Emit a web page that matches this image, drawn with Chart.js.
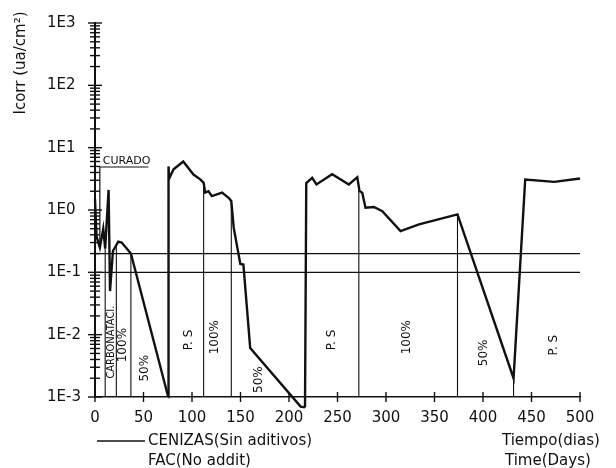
<!DOCTYPE html>
<html lang="es">
<head>
<meta charset="UTF-8" />
<title>Icorr - CENIZAS (Sin aditivos)</title>
<script src="https://cdn.jsdelivr.net/npm/chart.js@4.4.1/dist/chart.umd.min.js"></script>
<style>
  html,body{margin:0;padding:0;background:#fff}
  #wrap{width:616px;height:468px}
</style>
</head>
<body>
<div id="wrap"><canvas id="icorr" width="616" height="468"></canvas></div>
<script>
// Icorr (ua/cm2) vs time (days), one curve broken into three wet/dry cycles
const cycle1Days  = [0, 1.5, 5, 8.5, 10.5, 14, 15.5, 18.5, 24, 27.5, 37, 75.5];
const cycle1Icorr = [1.5, 0.38, 0.25, 0.5, 0.24, 2.1, 0.05, 0.22, 0.31, 0.30, 0.2, 0.001];

const cycle2Days  = [75.5, 75.8, 76.5, 81, 91, 101.5, 108.5, 112, 113.6, 117, 120.5, 131, 137.7, 140.5, 143, 149.8, 153, 160, 212, 216.5];
const cycle2Icorr = [0.001, 5.0, 3.2, 4.5, 6.0, 3.7, 3.1, 2.72, 1.9, 2.0, 1.67, 1.9, 1.57, 1.39, 0.52, 0.136, 0.133, 0.0061, 0.0007, 0.00068];

const cycle3Days  = [216.5, 217.8, 223.9, 228.3, 244.5, 261.7, 270.4, 272.7, 275.5, 278.9, 287.5, 296.2, 315, 334, 373.7, 431.5, 443.5, 473.5, 500];
const cycle3Icorr = [0.00068, 2.7, 3.27, 2.57, 3.75, 2.57, 3.36, 2.01, 1.89, 1.09, 1.12, 0.96, 0.46, 0.59, 0.85, 0.002, 3.09, 2.83, 3.2];

// phase boundaries: thin verticals from the curve down to the axis
const phaseDays = [10.5, 22, 37, 112, 140.5, 272, 373.7, 431.5];
const phaseTops = [0.24, 0.27, 0.2, 2.72, 1.39, 2.4, 0.85, 0.002];

// curing bracket
const curadoDays  = [5, 5, 55];
const curadoIcorr = [0.25, 4.9, 4.9];

// horizontal reference levels
const refLevels = [0.2, 0.1];

// zone names, written vertically
const zoneLabels = ['CARBONATACI.', '100%', '50%', 'P. S', '100%', '50%', 'P. S', '100%', '50%', 'P. S'];
const zoneDays   = [16.5, 29.2, 51.7, 96.4, 124, 168.7, 244.5, 322, 401, 473.5];
const zoneIcorr  = [0.0076, 0.0068, 0.0029, 0.0082, 0.0091, 0.0019, 0.0082, 0.0091, 0.0051, 0.0068];

const yDecades = [0.001, 0.01, 0.1, 1, 10, 100, 1000];
const yDecadeLabels = ['1E-3', '1E-2', '1E-1', '1E0', '1E1', '1E2', '1E3'];
const xTicks = [0, 50, 100, 150, 200, 250, 300, 350, 400, 450, 500];

const INK = '#111';
const FONT = "'DejaVu Sans', 'Liberation Sans', sans-serif";
const NARROW = "'Liberation Sans Narrow', 'DejaVu Sans Condensed', 'Liberation Sans', sans-serif";

// 1..9 per decade for the log axis tick marks
const yTickValues = [];
yDecades.slice(0, -1).forEach(d => { for (let m = 1; m <= 9; m++) yTickValues.push(m * d); });
yTickValues.push(yDecades[yDecades.length - 1]);

const xy = (days, vals) => days.map((d, i) => ({ x: d, y: vals[i] }));
const seg = (data, width) => ({
  data, borderColor: INK, borderWidth: width, pointRadius: 0,
  tension: 0, fill: false, clip: false
});

const datasets = [
  { ...seg(xy(cycle1Days, cycle1Icorr), 2.4), label: 'CENIZAS(Sin aditivos)' },
  seg(xy(cycle2Days, cycle2Icorr), 2.4),
  seg(xy(cycle3Days, cycle3Icorr), 2.4),
  seg(xy(curadoDays, curadoIcorr), 1.2),
  ...refLevels.map(v => seg([{ x: 0, y: v }, { x: 500, y: v }], 1.3)),
  ...phaseDays.map((d, i) => seg([{ x: d, y: phaseTops[i] }, { x: d, y: yDecades[0] }], 1.1))
];

const inkPlugin = {
  id: 'ink',
  afterDraw(chart) {
    const { ctx, scales: { x, y } } = chart;
    ctx.save();
    ctx.strokeStyle = INK;
    ctx.fillStyle = INK;

    // cross-shaped tick marks on both axes
    const ax = x.getPixelForValue(0);
    ctx.lineWidth = 1.4;
    yTickValues.forEach(v => {
      const py = y.getPixelForValue(v);
      const len = yDecades.includes(v) ? 7 : 5;
      ctx.beginPath();
      ctx.moveTo(ax - len, py);
      ctx.lineTo(ax + len, py);
      ctx.stroke();
    });
    const ay = y.getPixelForValue(yDecades[0]);
    xTicks.forEach(v => {
      const px = x.getPixelForValue(v);
      ctx.beginPath();
      ctx.moveTo(px, ay - 5);
      ctx.lineTo(px, ay + 5);
      ctx.stroke();
    });

    // zone names
    ctx.textAlign = 'center';
    ctx.textBaseline = 'middle';
    zoneLabels.forEach((t, i) => {
      ctx.save();
      ctx.translate(x.getPixelForValue(zoneDays[i]), y.getPixelForValue(zoneIcorr[i]));
      ctx.rotate(-Math.PI / 2);
      ctx.font = t.length > 6 ? `11px ${NARROW}` : `12px ${FONT}`;
      ctx.fillText(t, 0, 0);
      ctx.restore();
    });

    ctx.font = `11px ${FONT}`;
    ctx.textAlign = 'left';
    ctx.textBaseline = 'alphabetic';
    ctx.fillText('CURADO', x.getPixelForValue(8), y.getPixelForValue(5.4));

    // y title
    ctx.save();
    ctx.translate(21, 63);
    ctx.rotate(-Math.PI / 2);
    ctx.font = `15px ${FONT}`;
    ctx.textAlign = 'center';
    ctx.textBaseline = 'middle';
    ctx.fillText('Icorr (ua/cm\u00B2)', 0, 0);
    ctx.restore();

    // legend and x title
    ctx.lineWidth = 1.4;
    ctx.beginPath();
    ctx.moveTo(97, 441);
    ctx.lineTo(145, 441);
    ctx.stroke();
    ctx.font = `15px ${FONT}`;
    ctx.textBaseline = 'middle';
    ctx.fillText('CENIZAS(Sin aditivos)', 148, 441);
    ctx.fillText('FAC(No addit)', 148, 461);
    ctx.fillText('Tiempo(dias)', 502, 441);
    ctx.fillText('Time(Days)', 505, 461);
    ctx.restore();
  }
};

new Chart(document.getElementById('icorr'), {
  type: 'line',
  data: { datasets },
  options: {
    responsive: false,
    animation: false,
    devicePixelRatio: 1,
    layout: { padding: { top: 21, right: 36, bottom: 0, left: 47 } },
    plugins: { legend: { display: false }, tooltip: { enabled: false } },
    scales: {
      x: {
        type: 'linear', min: 0, max: 500,
        afterBuildTicks: s => { s.ticks = xTicks.map(v => ({ value: v })); },
        afterFit: s => { s.height = 71; },
        grid: { display: false },
        border: { display: true, color: INK, width: 1.5 },
        ticks: { autoSkip: false, maxRotation: 0, padding: 4, color: INK, font: { family: FONT, size: 15 } }
      },
      y: {
        type: 'logarithmic', min: yDecades[0], max: yDecades[yDecades.length - 1],
        afterBuildTicks: s => { s.ticks = yTickValues.map(v => ({ value: v })); },
        afterFit: s => { s.width = 48; },
        grid: { display: false },
        border: { display: true, color: INK, width: 2 },
        ticks: {
          autoSkip: false, crossAlign: 'far', padding: 14, color: INK,
          font: { family: FONT, size: 15 },
          callback: v => {
            const i = yDecades.indexOf(v);
            return i >= 0 ? yDecadeLabels[i] : '';
          }
        }
      }
    }
  },
  plugins: [inkPlugin]
});
</script>
</body>
</html>
